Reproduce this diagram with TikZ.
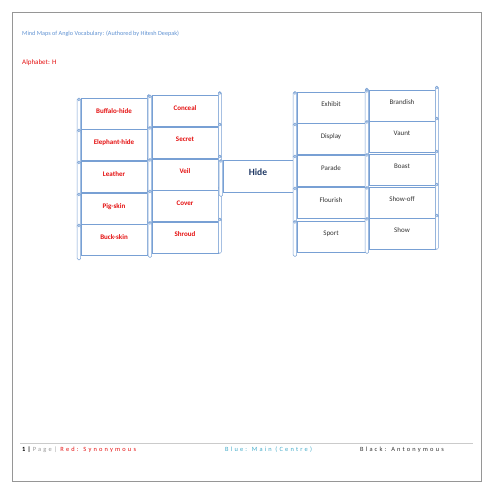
\documentclass[tikz,border=0pt]{standalone}
\usepackage{fontspec}
\setmainfont{Carlito}
\definecolor{boxblue}{RGB}{120,160,212}
\definecolor{synred}{RGB}{228,16,16}
\definecolor{mainblue}{RGB}{31,56,100}
\definecolor{headblue}{RGB}{96,146,210}
\definecolor{footblue}{RGB}{66,170,200}
\definecolor{antgray}{RGB}{50,50,50}
\definecolor{pagegray}{RGB}{150,150,150}
\tikzset{
  scrollbox/.style={draw=boxblue, line width=0.55pt, rectangle, inner sep=0pt,
    minimum height=31pt, text height=5pt, text depth=7pt},
  syn/.style={scrollbox, minimum width=66pt, text=synred, font=\bfseries\fontsize{7}{8}\selectfont},
  ant/.style={scrollbox, text=antgray, font=\fontsize{7}{8}\selectfont},
  roll/.style={draw=boxblue, line width=0.5pt, fill=white, rounded corners=1.2pt},
  legend/.style={anchor=base west, inner sep=0pt, font=\fontsize{6.4}{7}\selectfont\addfontfeature{LetterSpace=34}}
}
\begin{document}
\begin{tikzpicture}[x=1pt,y=-1pt]
\useasboundingbox (0,0) rectangle (495,495);
\draw [color=pagegray, line width=0.8pt](12,12) rectangle (481,481);
% heading
\node [anchor=base west, inner sep=0pt, text=headblue, font=\fontsize{6.2}{7}\selectfont] (title) at (22,36) {Mind Maps of Anglo Vocabulary: (Authored by Hitesh Deepak)};
\node [anchor=base west, inner sep=0pt, text=synred, font=\fontsize{7}{8}\selectfont] (alpha) at (22,64) {Alphabet: H};
% synonymous
\foreach \y/\n/\t in {114/buffalo/Buffalo-hide, 145/elephant/Elephant-hide, 177/leather/Leather, 209/pigskin/Pig-skin, 240/buckskin/Buck-skin}
  \node [syn] (\n) at (114,\y) {\t};
\foreach \y/\n/\t in {111/conceal/Conceal, 142.5/secret/Secret, 174.5/veil/Veil, 206/cover/Cover, 237.5/shroud/Shroud}
  \node [syn] (\n) at (185,\y) {\t};
% main
\node [scrollbox, minimum width=70pt, minimum height=32pt, text=mainblue, text height=7pt, text depth=8pt, font=\bfseries\fontsize{9.5}{10}\selectfont] (hide) at (258,176) {Hide};
% antonymous
\foreach \y/\n/\t in {107.5/exhibit/Exhibit, 139/display/Display, 171/parade/Parade, 203/flourish/Flourish, 236.5/sport/Sport}
  \node [ant, minimum width=68pt] (\n) at (331,\y) {\t};
\foreach \y/\n/\t in {105.5/brandish/Brandish, 136.5/vaunt/Vaunt, 169.5/boast/Boast, 202.5/showoff/Show-off, 233.5/show/Show}
  \node [ant, minimum width=66pt] (\n) at (402,\y) {\t};
% scroll rolls
\foreach \n in {buffalo,elephant,leather,pigskin,buckskin,conceal,secret,veil,cover,shroud,hide,exhibit,display,parade,flourish,sport,brandish,vaunt,boast,showoff,show}{
  \draw [roll]([xshift=-3.5pt]\n.north west) rectangle ([yshift=-4pt]\n.south west);
  \draw [roll]([yshift=3.5pt]\n.north east) rectangle ([xshift=3pt]\n.south east);
  \draw [color=boxblue, line width=0.45pt]([xshift=-1.8pt,yshift=-1.5pt]\n.north west) circle (1.2pt);
  \draw [color=boxblue, line width=0.45pt]([xshift=1.5pt,yshift=2pt]\n.north east) circle (1.2pt);
}
% footer
\draw [color=pagegray!50, line width=0.8pt](20,443) -- (473,443);
\node [legend] (legendred) at (22,451)
  {\textbf{1}\textbf{|}\textcolor{pagegray}{Page|} \textcolor{synred}{Red: Synonymous}};
\node [legend, text=footblue] (legendblue) at (225,451) {Blue: Main (Centre)};
\node [legend, text=antgray] (legendblack) at (360,451) {Black: Antonymous};
\end{tikzpicture}
\end{document}
